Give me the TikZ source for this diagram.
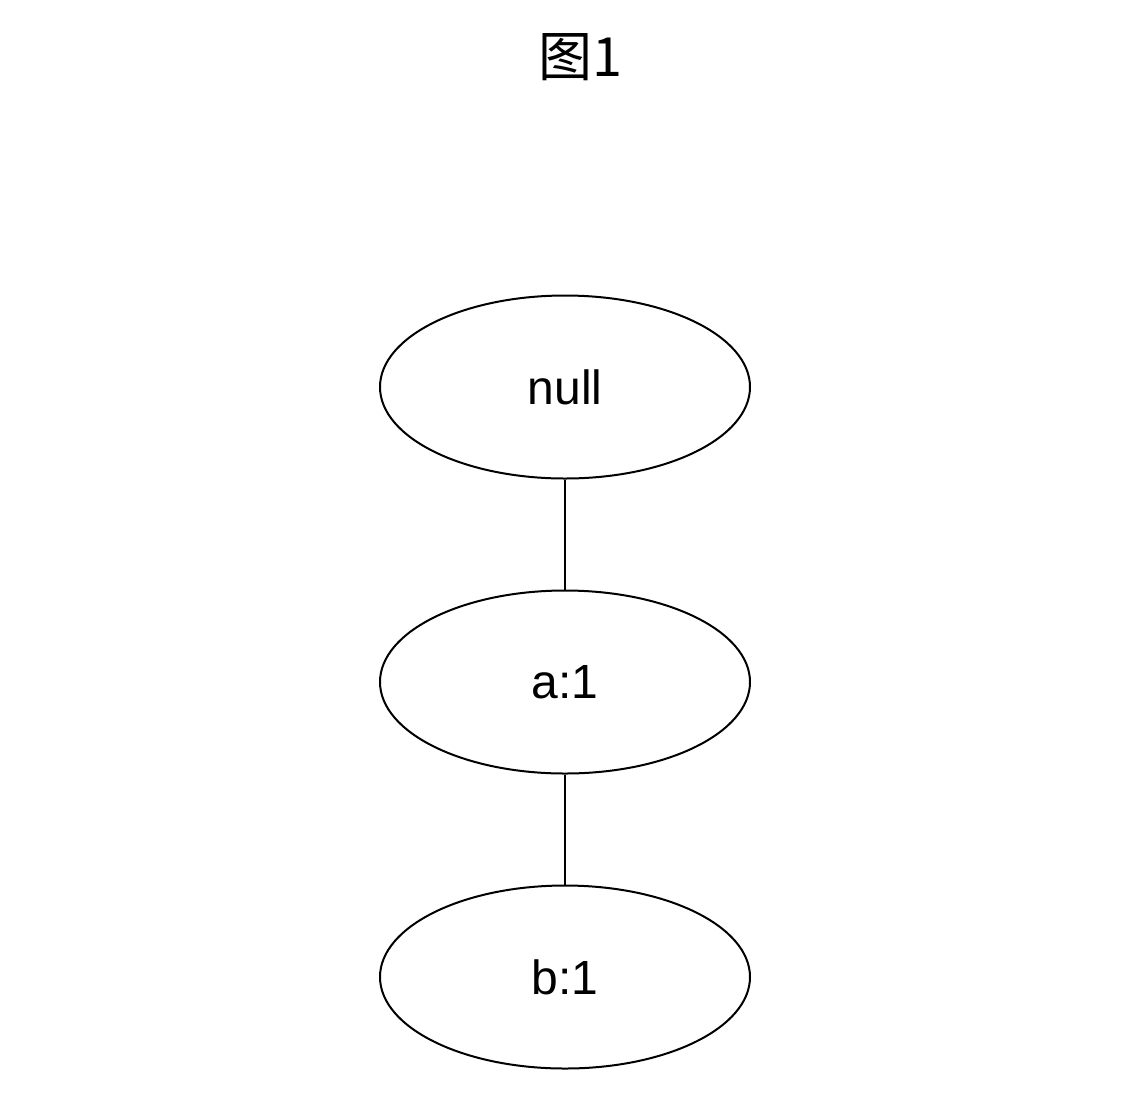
\documentclass[tikz,border=0pt]{standalone}
\usepackage{fontspec}
\setmainfont{Liberation Sans}
\newfontfamily\cjk{Noto Sans CJK SC}
\usetikzlibrary{shapes.geometric}
\begin{document}
\begin{tikzpicture}[x=1pt,y=-1pt,
  nodeell/.style={draw,ellipse,line width=2pt,minimum width=370pt,minimum height=183pt,inner sep=0pt,font=\fontsize{48}{52}\selectfont},
  edge/.style={line width=2pt}]
\useasboundingbox (0,0) rectangle (1148,1096);
\node (title) at (580,57) {\cjk\fontsize{54}{60}\selectfont 图1};
\node[nodeell] (n0) at (565,387) {null};
\node[nodeell] (n1) at (565,682) {a:1};
\node[nodeell] (n2) at (565,977) {b:1};
\draw[edge] (n0) -- (n1);
\draw[edge] (n1) -- (n2);
\end{tikzpicture}
\end{document}
